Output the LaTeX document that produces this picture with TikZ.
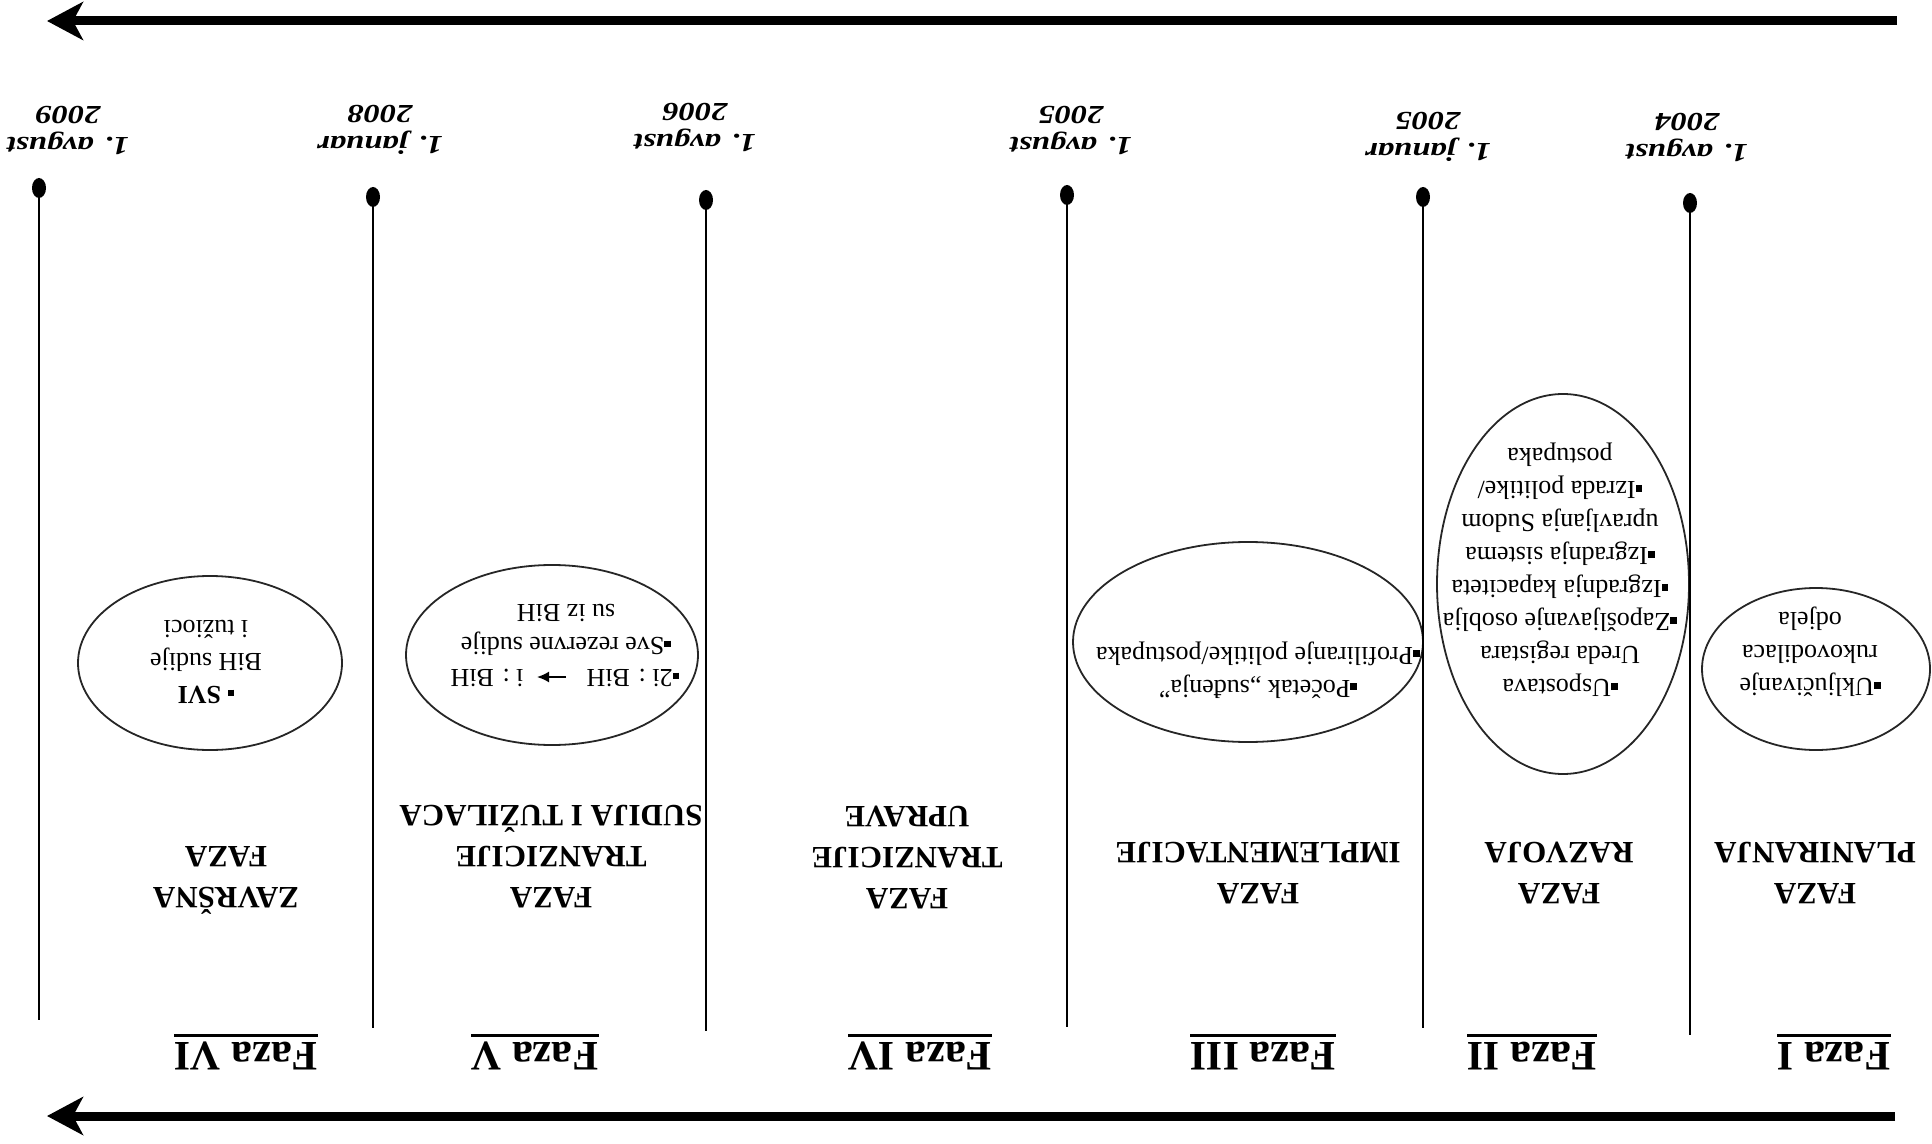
\documentclass[tikz,border=0pt]{standalone}
\usepackage{fontspec}
\setmainfont{Liberation Serif}
\usetikzlibrary{arrows.meta,shapes.geometric}
\newcommand\blt{\rule[0.12em]{0.26em}{0.26em}}
\newcommand\fazaul[1]{\vtop{\hbox{#1}\kern2.6pt\hrule height1.5pt}}
\begin{document}
\begin{tikzpicture}[x=0.5pt,y=-0.5pt,
 flip/.style={rotate=180, inner sep=0pt, align=center},
 datelbl/.style={flip, xscale=1.25, font=\fontsize{13}{15.5}\selectfont\bfseries\itshape},
 fazalbl/.style={flip, font=\fontsize{21}{24}\selectfont\bfseries},
 titlelbl/.style={flip, font=\fontsize{15.5}{20.5}\selectfont\bfseries},
 bodytxt/.style={flip, font=\fontsize{13}{16.5}\selectfont},
 bubble/.style={ellipse, draw=black!85, line width=0.9pt, inner sep=0pt},
 dot/.style={ellipse, fill=black, inner sep=0pt, minimum width=7pt, minimum height=10pt},
 vline/.style={line width=1pt},
 timearrow/.style={line width=4.5pt, -{Stealth[length=18pt,width=19pt,inset=5pt]}},
 smallarrow/.style={line width=0.9pt, -{Latex[length=6pt,width=5.5pt]}},
]
\useasboundingbox (0,0) rectangle (1932,1144);

% time arrows
\coordinate (ta1) at (1897,21);
\coordinate (ta2) at (47,21);
\coordinate (ba1) at (1895,1116);
\coordinate (ba2) at (47,1116);
\draw[timearrow] (ta1) -- (ta2);
\draw[timearrow] (ba1) -- (ba2);

% ellipses
\node[bubble, minimum width=114pt, minimum height=81pt] (e1) at (1816,669) {};
\node[bubble, minimum width=126pt, minimum height=190pt] (e2) at (1563,584) {};
\node[bubble, minimum width=175pt, minimum height=100pt] (e3) at (1248,642) {};
\node[bubble, minimum width=146pt, minimum height=90pt] (e4) at (552,655) {};
\node[bubble, minimum width=132pt, minimum height=87pt] (e5) at (210,663) {};

% milestone lines
\node[dot] (d1) at (39,188) {};
\node[dot] (d2) at (373,197) {};
\node[dot] (d3) at (706,200) {};
\node[dot] (d4) at (1067,195) {};
\node[dot] (d5) at (1423,197) {};
\node[dot] (d6) at (1690,203) {};
\coordinate (f1) at (39,1020);
\coordinate (f2) at (373,1028);
\coordinate (f3) at (706,1031);
\coordinate (f4) at (1067,1027);
\coordinate (f5) at (1423,1028);
\coordinate (f6) at (1690,1035);
\foreach \i in {1,...,6} \draw[vline] (d\i.center) -- (f\i);

% dates
\node[datelbl] (dt1) at (68,130) {1. avgust\\2009};
\node[datelbl] (dt2) at (380,130) {1. januar\\2008};
\node[datelbl] (dt3) at (695,127) {1. avgust\\2006};
\node[datelbl] (dt4) at (1071,130) {1. avgust\\2005};
\node[datelbl] (dt5) at (1428,137) {1. januar\\2005};
\node[datelbl] (dt6) at (1687,137) {1. avgust\\2004};

% phase labels
\node[fazalbl] (p1) at (1834,1052) {\fazaul{Faza I}};
\node[fazalbl] (p2) at (1532,1052) {\fazaul{Faza II}};
\node[fazalbl] (p3) at (1263,1052) {\fazaul{Faza III}};
\node[fazalbl] (p4) at (920,1052) {\fazaul{Faza IV}};
\node[fazalbl] (p5) at (535,1052) {\fazaul{Faza V}};
\node[fazalbl] (p6) at (246,1052) {\fazaul{Faza VI}};

% phase titles
\node[titlelbl] (t1) at (1815,873) {FAZA\\PLANIRANJA};
\node[titlelbl] (t2) at (1559,873) {FAZA\\RAZVOJA};
\node[titlelbl] (t3) at (1258,873) {FAZA\\IMPLEMENTACIJE};
\node[titlelbl] (t4) at (907,857) {FAZA\\TRANZICIJE\\UPRAVE};
\node[titlelbl] (t5) at (551,857) {FAZA\\TRANZICIJE\\SUDIJA I TUŽILACA};
\node[titlelbl] (t6) at (226,880) {ZAVRŠNA\\FAZA};

% bubble texts
\node[bodytxt] (x1) at (1810,652) {\blt Uključivanje\\rukovodilaca\\odjela};
\node[bodytxt] (x2) at (1560,570) {\blt Uspostava\\Ureda registara\\\blt Zapošljavanje osoblja\\\blt Izgradnja kapaciteta\\\blt Izgradnja sistema\\upravljanja Sudom\\\blt Izrada politike/\\postupaka};
\node[bodytxt] (x3) at (1258,670) {\blt Početak „suđenja”\\\blt Profiliranje politike/postupaka};
\node[bodytxt] (x4) at (566,630) {\blt Sve rezervne sudije\\su iz BiH};
\node[bodytxt] (x4a) at (633,678) {\blt 2i : BiH};
\node[bodytxt] (x4b) at (487,678) {i : BiH};
\coordinate (sa1) at (566,677);
\coordinate (sa2) at (537,677);
\draw[smallarrow] (sa1) -- (sa2);
\node[bodytxt] (x5) at (206,662) {\blt\ \textbf{SVI}\\BiH sudije\\i tužioci};
\end{tikzpicture}
\end{document}
